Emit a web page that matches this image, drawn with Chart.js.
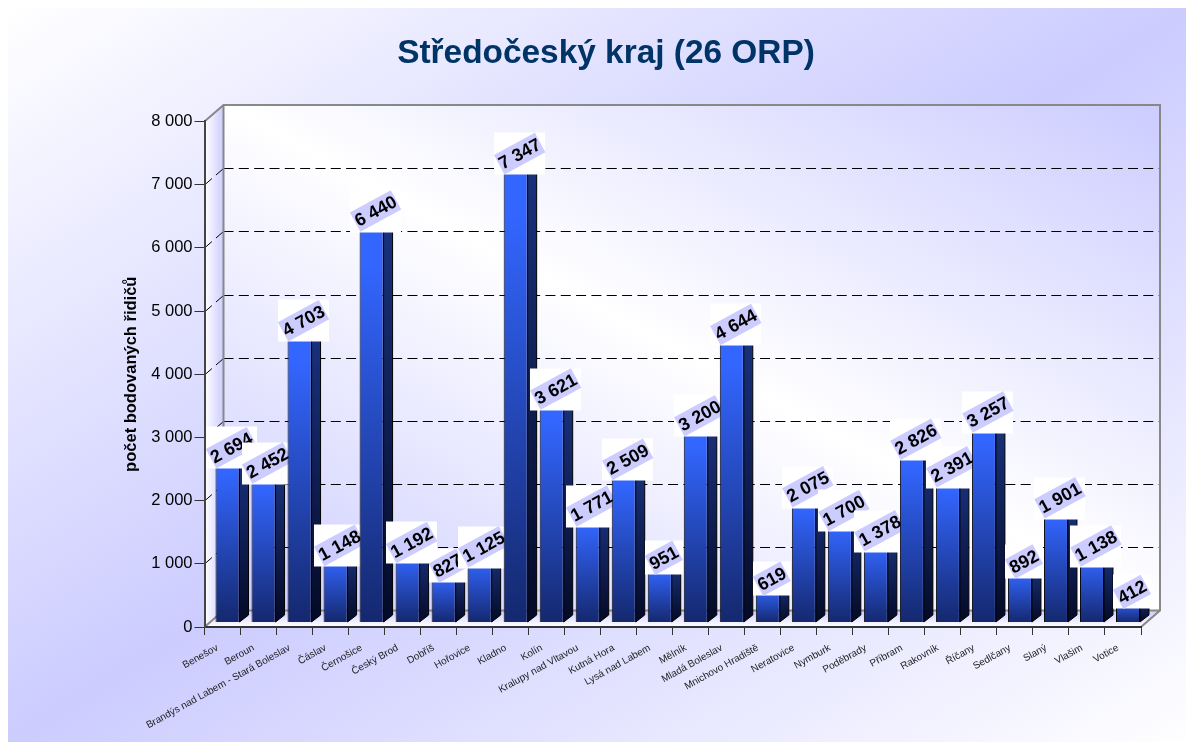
<!DOCTYPE html>
<html>
<head>
<meta charset="utf-8">
<title>Středočeský kraj (26 ORP)</title>
<script src="https://cdn.jsdelivr.net/npm/chart.js@4"></script>
<style>
    body { margin: 8px; background: #fff; overflow: hidden; }
    canvas { display: block; }
</style>
</head>
<body>
<canvas id="orpChart" width="1186" height="734"></canvas>
<script>
const titleText = 'Středočeský kraj (26 ORP)';
const yTitle = 'počet bodovaných řidičů';
const categories = ['Benešov', 'Beroun', 'Brandýs nad Labem - Stará Boleslav', 'Čáslav', 'Černošice', 'Český Brod',
    'Dobříš', 'Hořovice', 'Kladno', 'Kolín', 'Kralupy nad Vltavou', 'Kutná Hora', 'Lysá nad Labem', 'Mělník',
    'Mladá Boleslav', 'Mnichovo Hradiště', 'Neratovice', 'Nymburk', 'Poděbrady', 'Příbram', 'Rakovník', 'Říčany',
    'Sedlčany', 'Slaný', 'Vlašim', 'Votice'];
const drivers = [2694, 2452, 4703, 1148, 6440, 1192, 827, 1125, 7347, 3621, 1771, 2509, 951, 3200,
    4644, 619, 2075, 1700, 1378, 2826, 2391, 3257, 892, 1901, 1138, 412];
const yTicks = [0, 1000, 2000, 3000, 4000, 5000, 6000, 7000, 8000];

const fontName = '"Liberation Sans", Arial, sans-serif';
const depth = { x: 19, y: 16.5 };    // hloubka 3D podlahy
const barShift = { x: 5, y: -4.5 };  // sloupce stoji uprostred podlahy
const barSide = { x: 9, y: -7 };
const labelAngle = 28.5 * Math.PI / 180;

const thousands = v => String(v).replace(/\B(?=(\d{3})+$)/g, ' ');

// tri-stop gradient, isolines run along one diagonal of the box
function cornerGradient(ctx, x, y, w, h, edge, mid, flip) {
    const len = Math.hypot(w, h);
    const half = w * h / len;
    const dx = (flip ? -1 : 1) * h / len * half, dy = w / len * half;
    const cx = x + w / 2, cy = y + h / 2;
    const g = ctx.createLinearGradient(cx - dx, cy - dy, cx + dx, cy + dy);
    g.addColorStop(0, edge);
    g.addColorStop(0.5, mid);
    g.addColorStop(1, edge);
    return g;
}

function barGradient(context, top, bottom) {
    const { chart, parsed } = context;
    if (!parsed || !chart.chartArea) return top;
    const yScale = chart.scales.y;
    const y0 = yScale.getPixelForValue(parsed.y), y1 = yScale.getPixelForValue(0);
    if (!isFinite(y0) || !isFinite(y1)) return top;
    const g = chart.ctx.createLinearGradient(0, y0, 0, y1);
    g.addColorStop(0, top);
    g.addColorStop(0.12, top);
    g.addColorStop(1, bottom);
    return g;
}

const scenePlugin = {
    id: 'scene',
    afterLayout(chart) {
        // titulek je vycentrovany na cele plochy, ne na graf
        chart.titleBlock.left += 26;
        chart.titleBlock.right += 26;
    },
    beforeDraw(chart) {
        const { ctx, width, height, chartArea: a, scales: { y } } = chart;
        ctx.save();
        ctx.fillStyle = cornerGradient(ctx, 0, 0, width, height, '#ffffff', '#ccccff', false);
        ctx.fillRect(0, 0, width, height);

        const wallX = a.left + depth.x, wallTop = a.top - depth.y, wallBottom = a.bottom - depth.y;
        const wallW = a.right - a.left;
        const wallH = wallBottom - wallTop;

        ctx.fillStyle = cornerGradient(ctx, wallX, wallTop, wallW, wallH, '#ccccff', '#ffffff', true);
        ctx.fillRect(wallX, wallTop, wallW, wallH);

        // bocni stena
        const side = ctx.createLinearGradient(a.left, 0, wallX, 0);
        side.addColorStop(0, '#ffffff');
        side.addColorStop(1, '#ccccff');
        ctx.fillStyle = side;
        ctx.beginPath();
        ctx.moveTo(a.left, a.top);
        ctx.lineTo(wallX, wallTop);
        ctx.lineTo(wallX, wallBottom);
        ctx.lineTo(a.left, a.bottom);
        ctx.closePath();
        ctx.fill();

        // podlaha
        const floor = ctx.createLinearGradient(0, wallBottom, 0, a.bottom);
        floor.addColorStop(0, '#ccccff');
        floor.addColorStop(1, '#ffffff');
        ctx.fillStyle = floor;
        ctx.beginPath();
        ctx.moveTo(a.left, a.bottom);
        ctx.lineTo(wallX, wallBottom);
        ctx.lineTo(wallX + wallW, wallBottom);
        ctx.lineTo(a.right, a.bottom);
        ctx.closePath();
        ctx.fill();

        // mrizka na zadni stene a na bocni stene
        ctx.strokeStyle = '#000';
        ctx.lineWidth = 1;
        ctx.setLineDash([10, 5.33]);
        yTicks.filter(t => t > 0 && t < 8000).forEach(t => {
            const py = Math.round(y.getPixelForValue(t) - depth.y) + 0.5;
            ctx.beginPath();
            ctx.moveTo(wallX, py);
            ctx.lineTo(wallX + wallW, py);
            ctx.moveTo(wallX, py);
            ctx.lineTo(a.left, py + depth.y);
            ctx.stroke();
        });
        ctx.setLineDash([]);

        ctx.strokeStyle = '#888888';
        ctx.lineWidth = 2;
        ctx.beginPath();
        ctx.moveTo(a.left, a.top);
        ctx.lineTo(wallX, wallTop);
        ctx.lineTo(wallX + wallW, wallTop);
        ctx.lineTo(wallX + wallW, wallBottom);
        ctx.lineTo(a.right, a.bottom);
        ctx.moveTo(wallX, wallTop);
        ctx.lineTo(wallX, wallBottom);
        ctx.lineTo(wallX + wallW, wallBottom);
        ctx.moveTo(wallX, wallBottom);
        ctx.lineTo(a.left, a.bottom);
        ctx.stroke();
        ctx.restore();
    },
    // sloupce a popisky se kresli postupne, dalsi sloupec prekryje predchozi popisek
    beforeDatasetDraw(chart, args) {
        const { ctx } = chart;
        const bars = args.meta.data;
        ctx.save();
        ctx.translate(barShift.x, barShift.y);
        bars.forEach((bar, i) => {
            const half = bar.width / 2;
            const right = bar.x + half;
            const side = ctx.createLinearGradient(0, bar.y, 0, bar.base);
            side.addColorStop(0, '#1a3380');
            side.addColorStop(1, '#040a26');
            ctx.fillStyle = side;
            ctx.strokeStyle = '#000';
            ctx.lineWidth = 1;
            ctx.beginPath();
            ctx.moveTo(right, bar.y);
            ctx.lineTo(right + barSide.x, bar.y + barSide.y);
            ctx.lineTo(right + barSide.x, bar.base + barSide.y);
            ctx.lineTo(right, bar.base);
            ctx.closePath();
            ctx.fill();
            ctx.stroke();
            bar.draw(ctx);
            drawValue(ctx, thousands(drivers[i]), bar.x + 4, bar.y - 4.6);
        });
        ctx.restore();
        return false;
    }
};

function drawValue(ctx, text, cx, cy) {
    ctx.save();
    ctx.font = 'bold 18px ' + fontName;
    const w = ctx.measureText(text).width + 1.5;
    const h = 22;
    const boxW = w * Math.cos(labelAngle) + h * Math.sin(labelAngle);
    const boxH = w * Math.sin(labelAngle) + h * Math.cos(labelAngle);
    ctx.fillStyle = '#ffffff';
    ctx.fillRect(Math.round(cx - boxW / 2), Math.round(cy - boxH / 2), Math.round(boxW), Math.round(boxH));
    ctx.translate(cx, cy);
    ctx.rotate(-labelAngle);
    ctx.fillStyle = '#ccccff';
    ctx.fillRect(-w / 2, -h / 2, w, h);
    ctx.fillStyle = '#000';
    ctx.textAlign = 'center';
    ctx.textBaseline = 'middle';
    ctx.fillText(text, 0, 1);
    ctx.restore();
}

new Chart(document.getElementById('orpChart'), {
    type: 'bar',
    data: {
        labels: categories,
        datasets: [{
            label: yTitle,
            data: drivers,
            barPercentage: 24 / 36,
            categoryPercentage: 1,
            borderColor: '#000',
            borderWidth: 1,
            backgroundColor: c => barGradient(c, '#3366ff', '#14286e'),
        }],
    },
    options: {
        responsive: false,
        animation: false,
        layout: { padding: { left: 11, right: 53, top: 0, bottom: 0 } },
        plugins: {
            legend: { display: false },
            tooltip: { enabled: false },
            title: {
                display: true,
                text: titleText,
                color: '#003366',
                font: { family: fontName, size: 33.4, weight: 'bold', lineHeight: 1.2 },
                padding: { top: 25.5, bottom: 47.9 },
            },
        },
        scales: {
            x: {
                grid: { offset: true, drawOnChartArea: false, tickLength: 8, tickColor: '#333', tickWidth: 1 },
                border: { color: '#333', width: 2 },
                afterFit: s => { s.height = 115; },
                ticks: {
                    autoSkip: false,
                    maxRotation: 29,
                    minRotation: 29,
                    padding: 7,
                    labelOffset: -5,
                    color: '#222',
                    font: { family: fontName, size: 10 },
                },
            },
            y: {
                min: 0,
                max: 8000,
                grid: { drawOnChartArea: false, tickLength: 10, tickColor: '#333', tickWidth: 1 },
                border: { color: '#444', width: 2 },
                afterFit: s => { s.width = 185.5; },
                afterBuildTicks: s => { s.ticks = yTicks.map(v => ({ value: v })); },
                title: {
                    display: true,
                    text: yTitle,
                    color: '#000',
                    font: { family: fontName, size: 16.5, weight: 'bold' },
                    padding: { top: 103 },
                },
                ticks: {
                    color: '#000',
                    padding: 2,
                    font: { family: fontName, size: 16.5 },
                    callback: v => thousands(v),
                },
            },
        },
    },
    plugins: [scenePlugin],
});
</script>
</body>
</html>
